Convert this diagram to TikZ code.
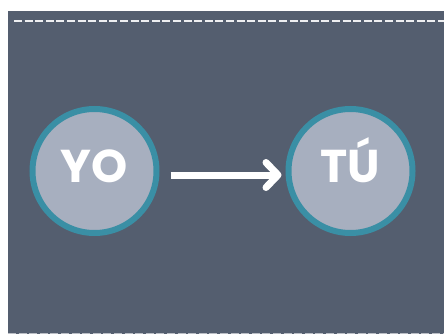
\documentclass[tikz,border=0pt]{standalone}
\usepackage{fontspec}
\setmainfont{Poppins}
\usepackage{xcolor}
\usetikzlibrary{arrows.meta,positioning}

\definecolor{slate}{HTML}{545E6F}
\definecolor{mist}{HTML}{A7AFBF}
\definecolor{teal}{HTML}{3A8FA5}

\tikzset{
  person/.style={circle,fill=mist,draw=teal,line width=6pt,minimum size=124pt,inner sep=0pt},
  word/.style={text=white,font=\fontsize{46}{46}\selectfont\bfseries,inner sep=0pt},
  sendarrow/.style={white,line width=7pt,-{Straight Barb[length=12pt,width=25pt,round]}}
}

\begin{document}
\begin{tikzpicture}[x=1pt,y=-1pt]
\useasboundingbox (0,0) rectangle (444,334);

% Background panel
\fill[slate] (8,11) rectangle (444,334);

% Dashed borders
\draw[white!90!slate,line width=2.6pt,dash pattern=on 8pt off 2.6pt] (14,21) -- (444,21);
\draw[white!60!slate,line width=2pt,dash pattern=on 8pt off 2.6pt] (8,333.5) -- (444,333.5);

% The two persons
\node[person] (yo) at (94.5,171) {};
\node[person] (tu) at (350.5,171) {};
\node[word,anchor=base] (yotext) at ([yshift=-11pt]yo.center) {YO};
\node[word,anchor=base] (tutext) at ([yshift=-11pt]tu.center) {TÚ};

% Arrow from YO to TU
\draw[sendarrow,shorten <=11pt,shorten >=4pt] ([yshift=-4pt]yo.east) -- ([yshift=-4pt]tu.west);
\end{tikzpicture}
\end{document}
